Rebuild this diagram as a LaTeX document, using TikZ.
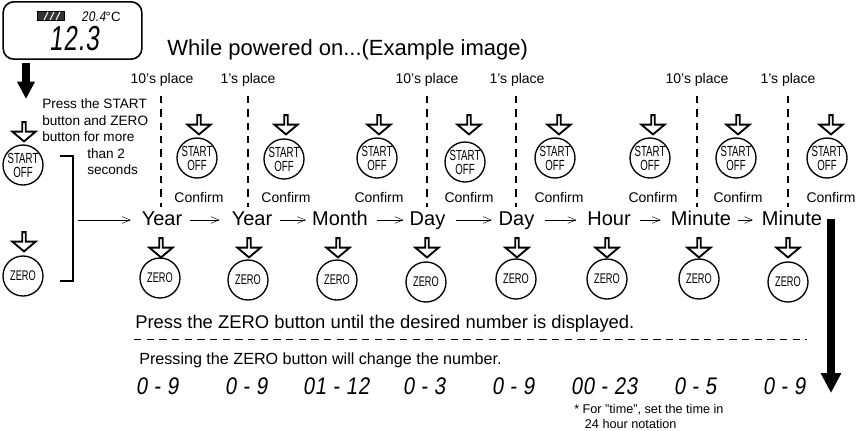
\documentclass[tikz,border=0pt]{standalone}
\usepackage{fontspec}
\usetikzlibrary{arrows.meta,shapes.arrows}
\setmainfont{Liberation Sans}
\newfontfamily\btnfont[FakeStretch=0.66]{Liberation Sans}
\newfontfamily\lcdfont[FakeStretch=0.85,FakeSlant=0.15,LetterSpace=3]{Liberation Sans}
\newcommand{\pxs}[2]{\fontsize{#1}{#2}\selectfont}
\tikzset{
  x=0.75pt,y=-0.75pt,
  btn/.style={circle,draw,line width=1pt,minimum size=30pt,inner sep=0pt,align=center,font=\btnfont\pxs{11}{10.5}},
  zbtn/.style={circle,draw,line width=1pt,minimum size=30pt,inner sep=0pt,font=\btnfont\pxs{10.5}{11}},
  press/.style={draw,line width=1.4pt,fill=white,single arrow,shape border rotate=270,minimum height=14.5pt,minimum width=17.5pt,single arrow head extend=4pt,single arrow tip angle=100,inner sep=0pt,outer sep=0pt},
  lab/.style={font=\pxs{10.5}{12},inner sep=0pt},
  conf/.style={font=\pxs{10.5}{12},inner sep=0pt},
  stepword/.style={font=\pxs{15}{18},inner sep=0pt,anchor=base},
  lcd/.style={font=\lcdfont\pxs{18}{18},inner sep=0pt},
  sep/.style={line width=0.9pt,dash pattern=on 5.5pt off 4.5pt},
  flow/.style={-{Straight Barb[length=6pt,width=5pt,line width=0.35pt]},line width=0.45pt},
}
\begin{document}
\begin{tikzpicture}
\useasboundingbox (0,0) rectangle (857,430);
% display
\node[draw,line width=1.2pt,rounded corners=8pt,minimum width=104pt,minimum height=43pt,inner sep=0pt] (disp) at (72.5,30.5) {};
\node[draw,line width=0.5pt,fill=black!80,minimum width=20pt,minimum height=7pt,inner sep=0pt] (batt) at (51,16) {};
\foreach \x in {46,52,58}
  \draw[white,line width=0.7pt] (\x-2,20) -- (\x+2,12);
\node[inner sep=0pt,anchor=base west] (temp) at (81,21) {{\lcdfont\pxs{10.5}{12}20.4}{\pxs{10}{12}°C}};
\node[font=\lcdfont\pxs{26}{30},inner sep=0pt] (read) at (74,39) {\scalebox{0.82}[1]{12.3}};
\node[font=\pxs{16.5}{18},inner sep=0pt,anchor=base west] (title) at (167,55) {While powered on...(Example image)};
% big arrows
\coordinate (d1) at (26,63);
\coordinate (d2) at (26,99);
\draw[line width=6pt,-{Triangle[length=13pt,width=12.5pt]}] (d1) -- (d2);
\coordinate (m1) at (831,219);
\coordinate (m2) at (831,393);
\draw[line width=5.5pt,-{Triangle[length=15pt,width=14.5pt]}] (m1) -- (m2);
% left column
\node[press] (pa) at (24,131) {};
\node[btn] (sb) at (23,165) {START\\OFF};
\node[press] (pz) at (24,241) {};
\node[zbtn] (zb) at (23,276) {ZERO};
\coordinate (b1) at (60,156);
\coordinate (b2) at (73,156);
\coordinate (b3) at (73,281);
\coordinate (b4) at (60,281);
\draw[line width=1.4pt] (b1) -- (b2) -- (b3) -- (b4);
\node[font=\pxs{10.2}{12.5},inner sep=0pt,align=left,anchor=north west] (ins) at (42,98.5) {Press the START\\button and ZERO\\button for more};
\node[font=\pxs{10.2}{12.5},inner sep=0pt,align=left,anchor=north west] (ins2) at (87,148) {than 2\\seconds};
% place labels
\foreach \n/\x/\t in {pl1/162/10's place,pl2/248/1's place,pl3/427/10's place,pl4/517/1's place,pl5/697/10's place,pl6/788/1's place}
  \node[lab] (\n) at (\x,80) {\t};
% guide lines
\foreach \n/\x in {g1/161,g2/248,g3/427,g4/516,g5/697,g6/788}{
  \coordinate (\n a) at (\x,96);
  \coordinate (\n b) at (\x,207);
  \draw[sep] (\n a) -- (\n b);
}
% start row
\foreach \n/\x/\y in {1/197/158,2/284/159,3/377/158,4/465/162,5/555/158,6/650/158,7/736/158,8/827/158}{
  \node[btn] (s\n) at (\x,\y) {START\\OFF};
}
\foreach \n/\x in {1/199,2/286,3/379,4/469,5/559,6/653,7/738,8/831}{
  \node[press] (ps\n) at (\x,124) {};
  \node[conf] (c\n) at (\x,197) {Confirm};
}
% zero row
\foreach \n/\x/\y/\a in {1/160/278/161,2/248/280/249,3/337/280/338,4/426/282/427,5/516/279/517,6/607/279/607,7/699/279/699,8/788/282/788}{
  \node[press] (pz\n) at (\a,247) {};
  \node[zbtn] (z\n) at (\x,\y) {ZERO};
}
% words
\node[stepword] (w1) at (162,225) {Year};
\node[stepword] (w2) at (252,225) {Year};
\node[stepword] (w3) at (340,225) {Month};
\node[stepword] (w4) at (427.5,225) {Day};
\node[stepword] (w5) at (516.5,225) {Day};
\node[stepword] (w6) at (609,225) {Hour};
\node[stepword] (w7) at (701,225) {Minute};
\node[stepword] (w8) at (792,225) {Minute};
\coordinate (w0) at (78,220);
\draw[flow,shorten >=8pt] (w0) -- (w1.west |- w0);
\foreach \a/\b/\s/\e in {1/2/6/9,2/3/6/4.5,3/4/6.5/4.5,4/5/8/5,5/6/7.5/8,6/7/6.5/7.5,7/8/5/6.5}
  \draw[flow,shorten <=\s pt,shorten >=\e pt] (w\a.east |- w0) -- (w\b.west |- w0);
% texts
\node[font=\pxs{13.8}{15},inner sep=0pt,anchor=base west] (t1) at (135,328) {Press the ZERO button until the desired number is displayed.};
\coordinate (s1) at (134,339);
\coordinate (s2) at (807,339);
\draw[line width=0.6pt,dash pattern=on 5.5pt off 4pt] (s1) -- (s2);
\node[font=\pxs{12.1}{14},inner sep=0pt,anchor=base west] (t2) at (139,364) {Pressing the ZERO button will change the number.};
\foreach \n/\x/\t in {1/157/0 - 9,2/246/0 - 9,3/336/01 - 12,4/424/0 - 3,5/513/0 - 9,6/604/00 - 23,7/695/0 - 5,8/784/0 - 9}
  \node[lcd] (r\n) at (\x,386) {\t};
\node[font=\pxs{9.5}{11},inner sep=0pt,align=left,anchor=north west] (note) at (574,404) {* For "time", set the time in\\\hspace*{8pt}24 hour notation};
\end{tikzpicture}
\end{document}
